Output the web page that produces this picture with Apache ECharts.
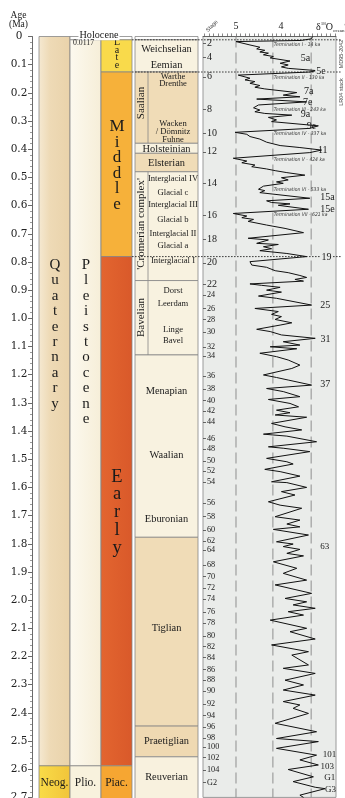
<!DOCTYPE html>
<html><head><meta charset="utf-8">
<script src="https://cdn.jsdelivr.net/npm/echarts@6/dist/echarts.min.js"></script>
<style>html,body{margin:0;padding:0;background:#fff;}#c{width:345px;height:798px;}</style>
</head><body><div id="c"></div>
<script>
// ================= DATA =================
// Chronostratigraphy (ages in Ma)
const systemNames = ['Quaternary', 'Neog.'];
const systemBounds = [0, 2.588, 2.8];
const seriesNames = ['Holocene', 'Pleistocene', 'Plio.'];
const seriesBounds = [0, 0.0117, 2.588, 2.8];
const stageNames = ['', 'Late', 'Middle', 'Early', 'Piac.'];
const stageBounds = [0, 0.0117, 0.126, 0.781, 2.588, 2.8];
const holoceneTopLabel = 'Holocene';
const holoceneBaseLabel = '0.0117';

// NW European regional stages
const regionalUnits = ['', 'Weichselian/Eemian', 'Saalian', 'Holsteinian', 'Elsterian', "'Cromerian complex'", 'Bavelian', 'Menapian/Waalian/Eburonian', 'Tiglian', 'Praetiglian', 'Reuverian'];
const regionalBounds = [0, 0.0117, 0.126, 0.379, 0.4145, 0.48, 0.866, 1.13, 1.777, 2.447, 2.556, 2.8];
const regionalLabels = ['Weichselian', 'Eemian', 'Holsteinian', 'Elsterian', 'Menapian', 'Waalian', 'Eburonian', 'Tiglian', 'Praetiglian', 'Reuverian'];
const regionalLabelAges = [0.046, 0.101, 0.400, 0.450, 1.258, 1.485, 1.712, 2.100, 2.502, 2.629];
const groupLabels = ['Saalian', "'Cromerian complex'", 'Bavelian'];
const groupLabelAges = [0.236, 0.665, 0.997];
const substageLabels = ['Warthe', 'Drenthe', 'Wacken', '/ Dömnitz', 'Fuhne', 'Interglacial IV', 'Glacial c', 'Interglacial III', 'Glacial b', 'Interglacial II', 'Glacial a', 'Interglacial I', 'Dorst', 'Leerdam', 'Linge', 'Bavel'];
const substageAges = [0.141, 0.166, 0.308, 0.338, 0.367, 0.506, 0.553, 0.598, 0.649, 0.701, 0.741, 0.796, 0.903, 0.947, 1.039, 1.081];

// LR04 benthic stack / MD95-2042 (age Ma, d18O permil)
const isoAge = [0.000,0.008,0.014,0.018,0.030,0.038,0.044,0.049,0.055,0.059,0.065,0.071,0.076,0.087,0.095,0.101,0.108,0.113,0.121,0.126,
0.137,0.148,0.154,0.160,0.166,0.174,0.180,0.186,0.199,0.208,0.214,0.222,0.232,0.243,0.253,0.261,0.267,0.273,0.279,0.287,
0.296,0.302,0.317,0.326,0.340,0.347,0.355,0.364,0.375,0.387,0.394,0.403,0.412,0.432,0.442,0.448,0.456,0.462,0.470,0.476,
0.483,0.492,0.501,0.509,0.516,0.521,0.531,0.542,0.547,0.554,0.574,0.583,0.589,0.594,0.599,0.613,0.628,0.637,0.643,0.649,
0.656,0.669,0.681,0.696,0.716,0.722,0.734,0.738,0.746,0.753,0.760,0.770,0.781,0.799,0.811,0.819,0.831,0.838,0.848,0.855,
0.862,0.868,0.878,0.883,0.890,0.900,0.907,0.921,0.929,0.953,0.965,0.976,0.986,0.994,1.004,1.016,1.024,1.039,1.047,1.059,
1.071,1.083,1.095,1.101,1.108,1.124,1.136,1.148,1.166,1.178,1.201,1.210,1.219,1.237,1.249,1.260,1.278,1.288,1.302,1.314,
1.326,1.335,1.343,1.351,1.373,1.385,1.396,1.411,1.418,1.438,1.456,1.461,1.473,1.497,1.509,1.517,1.536,1.544,1.560,1.580,
1.583,1.600,1.615,1.627,1.651,1.663,1.674,1.704,1.716,1.730,1.740,1.749,1.769,1.793,1.801,1.810,1.820,1.834,1.843,1.864,
1.887,1.905,1.929,1.946,1.976,1.994,2.006,2.017,2.029,2.041,2.053,2.071,2.100,2.112,2.138,2.159,2.183,2.195,2.230,2.242,
2.260,2.284,2.301,2.319,2.337,2.360,2.372,2.384,2.402,2.437,2.467,2.491,2.502,2.526,2.550,2.567,2.585,2.601,2.627,2.644,
2.664,2.669,2.692,2.700];
const isoD18O = [3.30,3.32,3.55,5.00,4.69,4.47,4.54,4.36,4.47,4.28,4.39,4.17,4.24,3.80,4.02,3.84,3.99,3.84,3.21,3.36,
4.95,4.69,4.80,4.58,4.69,4.47,4.58,4.36,3.65,3.95,3.58,4.54,3.43,4.50,4.61,4.47,4.58,4.36,3.76,4.28,
4.10,4.21,3.17,3.36,5.02,4.76,4.69,4.47,4.32,4.02,3.58,3.10,3.36,5.06,4.76,4.87,4.58,4.65,4.32,4.13,
3.87,3.47,3.99,3.84,4.10,3.95,4.39,4.50,4.36,4.47,3.36,4.32,4.21,3.80,4.06,3.39,5.06,4.76,4.87,4.61,
4.73,4.32,3.91,3.50,4.73,4.28,4.54,4.06,4.39,4.21,4.47,3.87,3.43,4.69,4.65,4.32,4.13,3.84,3.58,3.43,
3.69,3.50,4.69,4.43,4.02,4.32,3.99,4.50,4.10,3.32,4.58,4.06,4.21,3.99,4.13,3.76,4.02,4.54,4.24,3.99,
3.24,3.95,3.58,4.24,3.65,4.47,4.10,3.84,3.58,3.76,4.39,4.10,3.84,3.32,4.32,3.95,3.58,4.28,3.80,3.61,
4.10,3.80,4.13,3.43,4.21,3.91,3.54,4.39,3.87,3.21,4.28,3.95,3.36,4.32,3.87,3.73,4.36,4.02,3.58,4.21,
3.87,3.43,3.99,3.69,4.28,4.02,3.54,4.13,3.58,3.87,3.58,4.17,3.39,4.10,3.73,3.95,3.58,3.87,3.50,4.17,
3.65,3.95,3.43,4.13,3.32,3.91,3.43,3.73,3.24,3.84,3.50,4.24,3.43,3.80,3.24,4.21,3.39,3.76,3.39,3.95,
3.24,3.91,3.50,3.95,3.24,3.95,3.58,3.73,3.39,4.13,3.21,4.10,3.17,4.10,3.21,3.58,3.17,3.84,3.28,3.73,
3.24,3.02,3.58,3.50];

// Marine isotope stage boundaries (left ticks)
const misLabels = ['2','4','6','8','10','12','14','16','18','20','22','24','26','28','30','32','34','36','38','40','42','44','46','48','50','52','54','56','58','60','62','64','68','70','72','74','76','78','80','82','84','86','88','90','92','94','96','98','100','102','104','G2'];
const misAges = [0.024,0.075,0.143,0.257,0.342,0.409,0.520,0.636,0.719,0.803,0.878,0.918,0.966,1.004,1.048,1.101,1.134,1.204,1.251,1.292,1.328,1.369,1.426,1.464,1.506,1.541,1.580,1.656,1.704,1.751,1.790,1.822,1.876,1.917,1.958,1.997,2.043,2.082,2.127,2.165,2.204,2.246,2.284,2.323,2.369,2.410,2.451,2.490,2.522,2.558,2.603,2.648];

// Interglacial / substage peak labels (right)
const peakLabels = ['5a','5e','7a','7e','9a','9e','11','15a','15e','19','25','31','37','63','101','103','G1','G3'];
const peakAges = [0.077,0.123,0.193,0.234,0.276,0.320,0.403,0.572,0.612,0.783,0.955,1.075,1.233,1.810,2.550,2.591,2.629,2.671];
const peakLabelD18O = [3.56,3.24,3.49,3.51,3.56,3.43,3.18,3.13,3.13,3.12,3.13,3.12,3.13,3.13,3.07,3.12,3.04,3.02];

// Glacial terminations
const termLabels = ['Termination I - 14 ka','Termination II - 130 ka','Termination III - 243 ka','Termination IV - 337 ka','Termination V - 424 ka','Termination VI - 533 ka','Termination VII - 621 ka'];
const termAges = [0.028,0.146,0.258,0.346,0.436,0.542,0.633];
const termD18O = 4.16;

const boundaryLineAges = [0.0117, 0.126, 0.781];
const refD18O = [5.0, 4.18, 3.33];
const isoTickValues = [2.8,2.9,3.0,3.1,3.2,3.3,3.4,3.5,3.6,3.7,3.8,3.9,4.0,4.1,4.2,4.3,4.4,4.5,4.6,4.7,4.8,4.9,5.0,5.1,5.2,5.3,5.4,5.5,5.6,5.7];
const isoLabelValues = [5, 4];

// ================= LAYOUT / STYLE =================
const SERIF = "'Liberation Serif','Times New Roman',serif";
const SANS = "'Liberation Sans',Arial,sans-serif";
const NARROW = "'Liberation Sans Narrow','DejaVu Sans Condensed','Liberation Sans',sans-serif";
const INK = '#1a1a1a', EDGE = '#868686';
const L = { col1:[39,70], col2:[70,101], col3:[101,132], col4:[135,198], subDiv:148, lineX:[132,342],
  xFull:166.5, xRight:173, xSub:141.5 };
const G = (a,b) => new echarts.graphic.LinearGradient(0,0,1,0,[{offset:0,color:a},{offset:1,color:b}]);
const systemFill = [new echarts.graphic.LinearGradient(0,0,1,0,[{offset:0,color:'#f5e9d2'},{offset:0.35,color:'#eedab6'},{offset:1,color:'#e9d2aa'}]), G('#f9dc48','#f1c43a')];
const seriesFill = ['#ffffff', G('#fcf9ef','#f6eed8'), '#f8f2dd'];
const stageFill = ['#ffffff', '#f9da4b', '#f6b13a', G('#e3652f','#d9592a'), '#f6a632'];
const CREAM = '#f8f2e0', TAN = '#f0dcb7';
const regionalFill = ['#ffffff', CREAM, TAN, CREAM, TAN, CREAM, CREAM, CREAM, TAN, '#efd9b2', '#f8f1de'];
const regionalWithSub = [2, 5, 6];
const verticalWords = [
  {col:'col1', name:systemNames[0], age:1.057, size:15, lh:15.4},
  {col:'col2', name:seriesNames[1], age:1.084, size:15, lh:15.4},
  {col:'col3', name:stageNames[1], age:0.0617, size:10, lh:7.4},
  {col:'col3', name:stageNames[2], age:0.458, size:17, lh:15.5},
  {col:'col3', name:stageNames[3], age:1.689, size:18.5, lh:17.9}
];
const bottomLabelAge = 2.649;

const TOP = 36.5, H = 760.9;

function renderStrat(params, api) {
  const X = x => api.coord([x, 0])[0];
  const Y = a => api.coord([100, a])[1];
  const kids = [];
  const box = (xr, a0, a1, fill) => {
    const y0 = Y(a0), y1 = Y(a1);
    kids.push({type:'rect', shape:{x:X(xr[0]), y:y0, width:X(xr[1])-X(xr[0]), height:y1-y0},
      style:{fill:fill, stroke:EDGE, lineWidth:0.8}});
  };
  const txt = (s, x, a, style, rot) => kids.push({type:'text', x:X(x), y:Y(a), rotation:rot||0,
      style:Object.assign({text:s, align:'center', verticalAlign:'middle', fill:INK, fontFamily:SERIF, fontSize:10}, style||{})});
  const centre = c => (L[c][0]+L[c][1])/2;

  systemNames.forEach((n,i) => box(L.col1, systemBounds[i], systemBounds[i+1], systemFill[i]));
  seriesNames.forEach((n,i) => box(L.col2, seriesBounds[i], seriesBounds[i+1], seriesFill[i]));
  stageNames.forEach((n,i) => box(L.col3, stageBounds[i], stageBounds[i+1], stageFill[i]));
  regionalUnits.forEach((n,i) => {
    box(L.col4, regionalBounds[i], regionalBounds[i+1], regionalFill[i]);
    if (regionalWithSub.indexOf(i) >= 0) {
      kids.push({type:'line', shape:{x1:X(L.subDiv), y1:Y(regionalBounds[i]), x2:X(L.subDiv), y2:Y(regionalBounds[i+1])},
        style:{stroke:EDGE, lineWidth:0.8}});
    }
  });

  verticalWords.forEach(w => txt(w.name.split('').join('\n'), centre(w.col)+0.5, w.age,
      {fontSize:w.size, lineHeight:w.lh}));
  txt(systemNames[1], centre('col1'), bottomLabelAge, {fontSize:11.5});
  txt(seriesNames[2], centre('col2'), bottomLabelAge, {fontSize:11.5});
  txt(stageNames[4], centre('col3'), bottomLabelAge, {fontSize:11.5});
  kids.push({type:'text', x:(X(L.col2[0])+X(L.col3[1]))/2 - 2, y:Y(0) - 1.2,
    style:{text:holoceneTopLabel, align:'center', verticalAlign:'middle', fill:INK, fontFamily:SERIF, fontSize:10.2,
      backgroundColor:'#ffffff', padding:[0,1,0,1]}});
  kids.push({type:'text', x:X(L.col2[0])+3, y:Y(0.0117)+3.2,
    style:{text:holoceneBaseLabel, align:'left', verticalAlign:'middle', fill:INK, fontFamily:SERIF, fontSize:7.8}});

  regionalLabels.forEach((n,i) => txt(n, L.xFull, regionalLabelAges[i], {fontSize:10.4}));
  substageLabels.forEach((n,i) => txt(n, L.xRight, substageAges[i], {fontSize:8.6}));
  groupLabels.forEach((n,i) => txt(n, L.xSub, groupLabelAges[i], {fontSize:11}, Math.PI/2));

  boundaryLineAges.forEach(a => kids.push({type:'line', shape:{x1:X(L.lineX[0]), y1:Y(a), x2:X(L.lineX[1]), y2:Y(a)},
    style:{stroke:'#2a2a2a', lineWidth:0.9, lineDash:[1.6,1.4]}}));
  return {type:'group', children:kids};
}

function renderIsoUnder(params, api) {
  const kids = [];
  refD18O.forEach(v => {
    const p0 = api.coord([v, 0]), p1 = api.coord([v, 2.7]);
    kids.push({type:'line', shape:{x1:p0[0], y1:p0[1], x2:p1[0], y2:p1[1]},
      style:{stroke:'#8e8e8e', lineWidth:1, lineDash:[11,5]}});
  });
  return {type:'group', children:kids};
}

function renderIsoOver(params, api) {
  const kids = [];
  peakLabels.forEach((n,i) => {
    const p = api.coord([peakLabelD18O[i], peakAges[i]]);
    const small = peakAges[i] > 1.5;
    const onLine = (n === '5e' || n === '19');
    kids.push({type:'text', x:p[0], y:p[1], style:{text:n, align:'left', verticalAlign:'middle', fill:INK,
      fontFamily:SERIF, fontSize: small ? 9 : 10, backgroundColor: onLine ? '#eaecea' : null, padding: onLine ? [0,1,0,1] : 0}});
  });
  termLabels.forEach((n,i) => {
    const p = api.coord([termD18O, termAges[i]]);
    kids.push({type:'text', x:p[0], y:p[1], style:{text:n, align:'left', verticalAlign:'middle', fill:'#333',
      fontFamily:NARROW, fontStyle:'italic', fontSize:5}});
  });
  return {type:'group', children:kids};
}

const misMap = {};
misAges.forEach((a,i) => { misMap[a.toFixed(3)] = misLabels[i]; });

const chart = echarts.init(document.getElementById('c'), null, {renderer:'canvas', width:345, height:798});
chart.setOption({
  animation: false,
  backgroundColor: '#ffffff',
  textStyle: {fontFamily: SERIF},
  grid: [
    {left:32, top:TOP, width:168, height:H, outerBoundsMode:'none', containLabel:false},
    {left:203, top:TOP, width:133, height:H, outerBoundsMode:'none', containLabel:false, show:true,
      backgroundColor:'#eaecea', borderColor:'#9a9a9a', borderWidth:1}
  ],
  xAxis: [
    {gridIndex:0, type:'value', min:32, max:200, show:false},
    {gridIndex:1, type:'value', inverse:true, min:2.778, max:5.733, position:'top',
      axisLine:{show:true, onZero:false, lineStyle:{color:'#555', width:0.8}},
      axisTick:{show:true, inside:false, length:3, customValues:isoTickValues, lineStyle:{color:'#555', width:0.7}},
      axisLabel:{show:true, customValues:isoLabelValues, margin:5, fontFamily:SERIF, fontSize:10, color:INK},
      splitLine:{show:false}}
  ],
  yAxis: [
    {gridIndex:0, type:'value', inverse:true, min:0, max:2.7, interval:0.1, position:'left',
      axisLine:{show:true, onZero:false, lineStyle:{color:'#444', width:0.8}},
      axisTick:{show:true, length:4, lineStyle:{color:'#444', width:0.8}},
      minorTick:{show:true, splitNumber:5, length:2, lineStyle:{color:'#555', width:0.6}},
      axisLabel:{show:true, showMinLabel:true, showMaxLabel:true, align:'center', margin:13,
        fontFamily:"'DejaVu Serif',serif", fontSize:10.5, color:'#222',
        formatter: v => (Math.abs(v) < 1e-9 ? '0' : v.toFixed(1))},
      splitLine:{show:false}},
    {gridIndex:1, type:'value', inverse:true, min:0, max:2.7, position:'left',
      axisLine:{show:false},
      axisTick:{show:true, inside:true, length:3, customValues:misAges, lineStyle:{color:'#444', width:0.8}},
      axisLabel:{show:true, inside:true, margin:4, customValues:misAges, color:INK,
        formatter: v => { const s = misMap[(+v).toFixed(3)] || ''; return (v < 0.9 ? '{b|' : '{s|') + s + '}'; },
        rich:{b:{fontFamily:SERIF, fontSize:10, color:INK}, s:{fontFamily:SERIF, fontSize:8.2, color:INK}}},
      splitLine:{show:false}}
  ],
  series: [
    {type:'custom', name:'strat', coordinateSystem:'cartesian2d', xAxisIndex:0, yAxisIndex:0, z:2,
      renderItem: renderStrat, data:[[100, 1]], silent:true, clip:false},
    {type:'custom', name:'refLines', coordinateSystem:'cartesian2d', xAxisIndex:1, yAxisIndex:1, z:1,
      renderItem: renderIsoUnder, data:[[4, 1]], silent:true, clip:false},
    {type:'line', name:'d18O', xAxisIndex:1, yAxisIndex:1, z:3,
      data: isoAge.map((a,i) => [isoD18O[i], a]),
      showSymbol:false, symbol:'none', smooth:false, clip:true,
      lineStyle:{color:'#111', width:1}},
    {type:'custom', name:'labels', coordinateSystem:'cartesian2d', xAxisIndex:1, yAxisIndex:1, z:5,
      renderItem: renderIsoOver, data:[[4, 1]], silent:true, clip:false}
  ],
  graphic: [
    {type:'text', x:18.5, y:15, style:{text:'Age', align:'center', verticalAlign:'middle', fontFamily:SERIF, fontSize:9.5, fill:INK}},
    {type:'text', x:18.5, y:24, style:{text:'(Ma)', align:'center', verticalAlign:'middle', fontFamily:SERIF, fontSize:9.5, fill:INK}},
    {type:'text', x:212, y:26, rotation:Math.PI/4, style:{text:'Stage', align:'center', verticalAlign:'middle', fontFamily:SANS, fontSize:5.5, fill:'#444'}},
    {type:'text', x:316, y:27, style:{text:'{d|δ}{s|18}{d|O}{b|ocean}{d|‰}', align:'left', verticalAlign:'middle',
      rich:{d:{fontFamily:SERIF, fontSize:10, fill:INK, lineHeight:12}, s:{fontFamily:SERIF, fontSize:5, fill:INK, verticalAlign:'top', lineHeight:12},
            b:{fontFamily:SERIF, fontSize:5, fill:INK, verticalAlign:'bottom', lineHeight:12}}}},
    {type:'text', x:341.5, y:54, rotation:Math.PI/2, style:{text:'MD95-2042', align:'center', verticalAlign:'middle', fontFamily:SANS, fontSize:5.5, fill:'#444'}},
    {type:'text', x:341.5, y:92, rotation:Math.PI/2, style:{text:'LR04 stack', align:'center', verticalAlign:'middle', fontFamily:SANS, fontSize:5.5, fill:'#444'}}
  ]
});
</script>
</body></html>
